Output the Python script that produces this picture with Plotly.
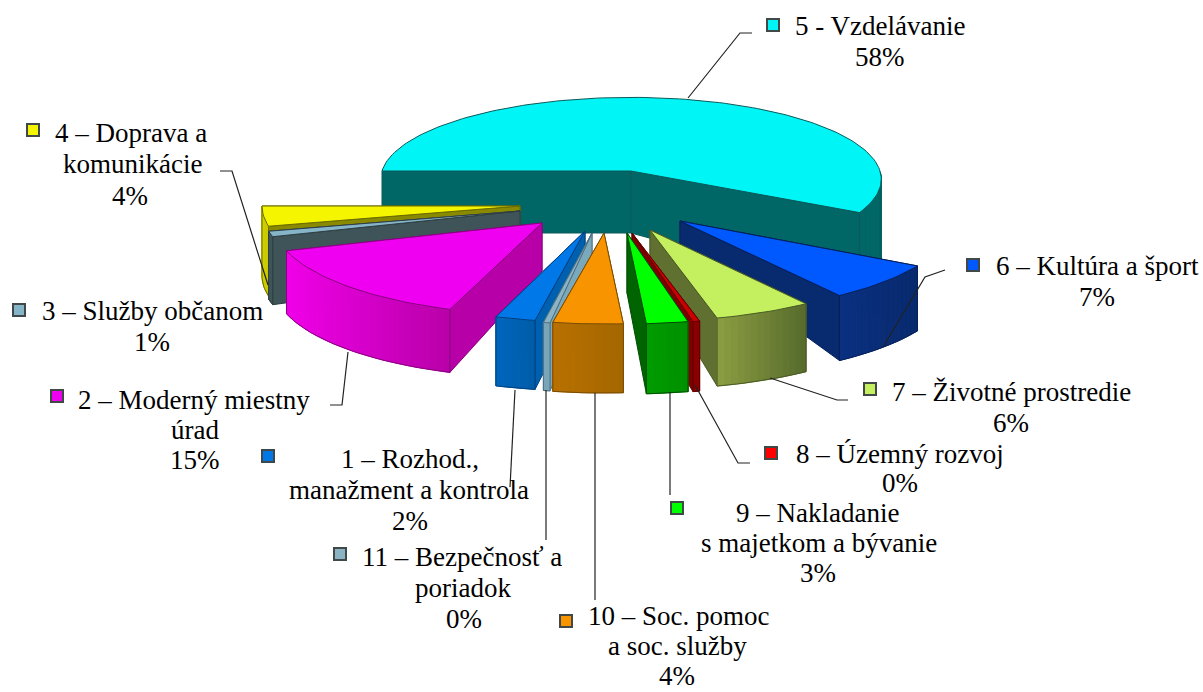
import math
import plotly.graph_objects as go

categories = ["5 - Vzdelávanie", "6 – Kultúra a šport", "7 – Životné prostredie", "8 – Územný rozvoj",
              "9 – Nakladanie s majetkom a bývanie", "10 – Soc. pomoc a soc. služby",
              "11 – Bezpečnosť a poriadok", "1 – Rozhod., manažment a kontrola",
              "2 – Moderný miestny úrad", "3 – Služby občanom", "4 – Doprava a komunikácie"]
values = [58, 6.9, 5.9, 0.4, 2.5, 4.2, 0.4, 2.4, 14.5, 1.0, 3.6]
percent_labels = ["58%", "7%", "6%", "0%", "3%", "4%", "0%", "2%", "15%", "1%", "4%"]
label_lines = [
    ["5 - Vzdelávanie"], ["6 – Kultúra a šport"], ["7 – Životné prostredie"], ["8 – Územný rozvoj"],
    ["9 – Nakladanie", "s majetkom a bývanie"], ["10 – Soc. pomoc", "a soc. služby"],
    ["11 – Bezpečnosť a", "poriadok"], ["1 – Rozhod.,", "manažment a kontrola"],
    ["2 – Moderný miestny", "úrad"], ["3 – Služby občanom"], ["4 – Doprava a", "komunikácie"],
]

# ---- style / layout per slice (same order as categories) ----
top_col = ["#00f6f6", "#0058ff", "#c4f060", "#c80000", "#00ff00", "#f79400", "#8ab4c4", "#0078e8", "#f000f0", "#86b4c8", "#f5f500"]
rad_col = ["#006666", "#082a6e", "#5f7030", "#800000", "#006400", "#a86800", "#7aa8bc", "#0060b0", "#b800a8", "#3f5458", "#8a8a00"]
wall_a = ["#006666", "#0a3080", "#8c9e42", "#8a0000", "#009c00", "#b87000", "#7aa5b8", "#0066bc", "#f000e8", "#3f5458", "#d0d000"]
wall_b = ["#006666", "#082a6e", "#566a2c", "#8a0000", "#009000", "#a46600", "#7aa5b8", "#005ca8", "#b800a8", "#3f5458", "#c8c800"]
edge_col = ["#0a5a5a", "#06205a", "#4a5a24", "#600000", "#004c00", "#7a4c00", "#4e7080", "#004080", "#8a0080", "#2e3e42", "#6a6a00"]
apex_x = [631, 680, 650, 632, 627, 604, 592, 585, 542, 520, 520]
apex_y = [171, 221, 230, 233, 233, 233, 233, 231, 223, 211, 206]
radius_x = [249, 272, 266, 268, 268, 268, 268, 268, 268, 258, 258]
radius_y = [81, 92, 91, 91, 91, 91, 91, 91, 92, 90, 90]
persp = [0.1, 0, 0, 0, 0, 0, 0, 0, 0, 0, 0]
depth_out = [73, 65, 68, 70, 70, 69, 68, 69, 63, 68, 70]
depth_cos = [11, 0, 0, 0, 0, 0, 0, 0, 0, 0, 0]
depth_in = [62, 24, 45, 60, 60, 60, 60, 60, 48, 60, 60]
rotation = [0, 0, 0, 0, 0, 0, -2, -1.7, -1, 0, 0]
paint_order = [0, 10, 9, 8, 1, 2, 3, 4, 7, 6, 5]

marker_x = [773, 973, 870, 771, 677, 566, 340, 268, 57, 19, 33]
marker_y = [25, 265, 389, 453, 508, 621, 554, 456, 396, 310, 130]
text_cx = [[880, 880], [1097, 1097], [1011, 1011], [900, 900], [817, 819, 818], [679, 677, 677],
           [462, 463, 464], [410, 409, 410], [194, 195, 195], [152, 152], [131, 132, 130]]
text_y = [[26, 57], [266, 297], [392, 423], [454, 483], [513, 543, 573], [616, 646, 676],
          [557, 588, 619], [459, 490, 521], [400, 430, 460], [311, 342], [133, 164, 196]]
leaders = [
    ([688, 740, 752], [98, 33, 33]), ([883, 925, 945], [347, 277, 270]), ([770, 837, 848], [378, 400, 400]),
    ([695, 738, 750], [385, 463, 463]), ([670, 670], [392, 495]), ([595, 595], [393, 600]),
    ([546, 546], [390, 540]), ([515, 510], [390, 487]), ([348, 342, 330], [352, 405, 405]),
    ([], []), ([268, 232, 220], [285, 171, 171]),
]

FONT = "Liberation Serif"
FONT_SIZE = 27


def hex_mix(a, b, t):
    ca = [int(a[i:i + 2], 16) for i in (1, 3, 5)]
    cb = [int(b[i:i + 2], 16) for i in (1, 3, 5)]
    return "#%02x%02x%02x" % tuple(round(p + (q - p) * t) for p, q in zip(ca, cb))


total = sum(values)
spans = [v / total * 360 for v in values]
starts = []
acc = 180.0
for s in spans:
    starts.append(acc)
    acc += s


def outer(i, deg):
    r = math.radians(deg)
    sc = 1 / (1 - persp[i] * math.sin(r))
    return apex_x[i] + radius_x[i] * math.cos(r) * sc, apex_y[i] + radius_y[i] * math.sin(r) * sc


def depth(i, deg):
    return depth_out[i] + depth_cos[i] * math.cos(math.radians(deg))


fig = go.Figure()


def poly(xs, ys, fill, line=None, width=1.0):
    fig.add_trace(go.Scatter(x=xs + xs[:1], y=ys + ys[:1], mode="lines", fill="toself", fillcolor=fill,
                             line=dict(color=line or fill, width=width), hoverinfo="skip", showlegend=False))


for i in paint_order:
    a0 = starts[i] + rotation[i]
    a1 = a0 + spans[i]
    steps = max(2, int(spans[i] / 1.5))
    angs = [a0 + (a1 - a0) * k / steps for k in range(steps + 1)]
    arc = [outer(i, a) for a in angs]
    ax, ay = apex_x[i], apex_y[i]

    # radial faces: the one turned away from the viewer first
    faces = [(a0, arc[0]), (a1, arc[-1])]
    mid_deg = (a0 + a1) / 2 % 360
    if 90 < mid_deg < 270:
        faces.reverse()
    for a, p in faces:
        xs = [ax, p[0], p[0], ax]
        ys = [ay, p[1], p[1] + depth(i, a), ay + depth_in[i]]
        poly(xs, ys, rad_col[i], edge_col[i], 1.0)

    # outer wall with a horizontal gradient (front half only)
    front = [k for k in range(steps) if math.sin(math.radians((angs[k] + angs[k + 1]) / 2)) > 0]
    if front:
        xvals = [arc[k][0] for k in front] + [arc[front[-1] + 1][0]]
        lo, hi = min(xvals), max(xvals)
        for k in front:
            mid = (arc[k][0] + arc[k + 1][0]) / 2
            t = (mid - lo) / (hi - lo) if hi > lo else 0.5
            col = hex_mix(wall_a[i], wall_b[i], t)
            poly([arc[k][0], arc[k + 1][0], arc[k + 1][0], arc[k][0]],
                 [arc[k][1], arc[k + 1][1], arc[k + 1][1] + depth(i, angs[k + 1]), arc[k][1] + depth(i, angs[k])],
                 col)
        bx = [arc[k][0] for k in front] + [arc[front[-1] + 1][0]]
        by = [arc[k][1] + depth(i, angs[k]) for k in front]
        by.append(arc[front[-1] + 1][1] + depth(i, angs[front[-1] + 1]))
        fig.add_trace(go.Scatter(x=bx, y=by, mode="lines", line=dict(color=edge_col[i], width=1),
                                 hoverinfo="skip", showlegend=False))
        for p, a in ((arc[front[0]], angs[front[0]]), (arc[front[-1] + 1], angs[front[-1] + 1])):
            fig.add_trace(go.Scatter(x=[p[0], p[0]], y=[p[1], p[1] + depth(i, a)], mode="lines",
                                     line=dict(color=edge_col[i], width=1), hoverinfo="skip", showlegend=False))

    # top face
    poly([ax] + [p[0] for p in arc], [ay] + [p[1] for p in arc], top_col[i], edge_col[i], 1.0)

# leader lines
for lx, ly in leaders:
    if lx:
        fig.add_trace(go.Scatter(x=lx, y=ly, mode="lines", line=dict(color="#222222", width=1.2),
                                 hoverinfo="skip", showlegend=False))

# legend keys
fig.add_trace(go.Scatter(x=marker_x, y=marker_y, mode="markers", hoverinfo="skip", showlegend=False,
                         marker=dict(symbol="square", size=12, color=[t if t != "#c80000" else "#ff0000" for t in top_col],
                                     line=dict(color="#404848", width=2))))

annotations = []
for i in range(len(categories)):
    lines = label_lines[i] + [percent_labels[i]]
    for txt, cx, cy in zip(lines, text_cx[i], text_y[i]):
        annotations.append(dict(x=cx, y=cy, xref="x", yref="y", text=txt, showarrow=False, xanchor="center",
                                yanchor="middle", font=dict(family=FONT, size=FONT_SIZE, color="#000000")))

fig.update_layout(
    width=1203, height=692, margin=dict(l=0, r=0, t=0, b=0), paper_bgcolor="white", plot_bgcolor="white",
    xaxis=dict(range=[0, 1203], visible=False, fixedrange=True),
    yaxis=dict(range=[692, 0], visible=False, fixedrange=True),
    annotations=annotations,
)
fig.write_html("out.html", post_script="document.body.style.margin='0';document.body.style.overflow='hidden';",
               config={"displayModeBar": False})
